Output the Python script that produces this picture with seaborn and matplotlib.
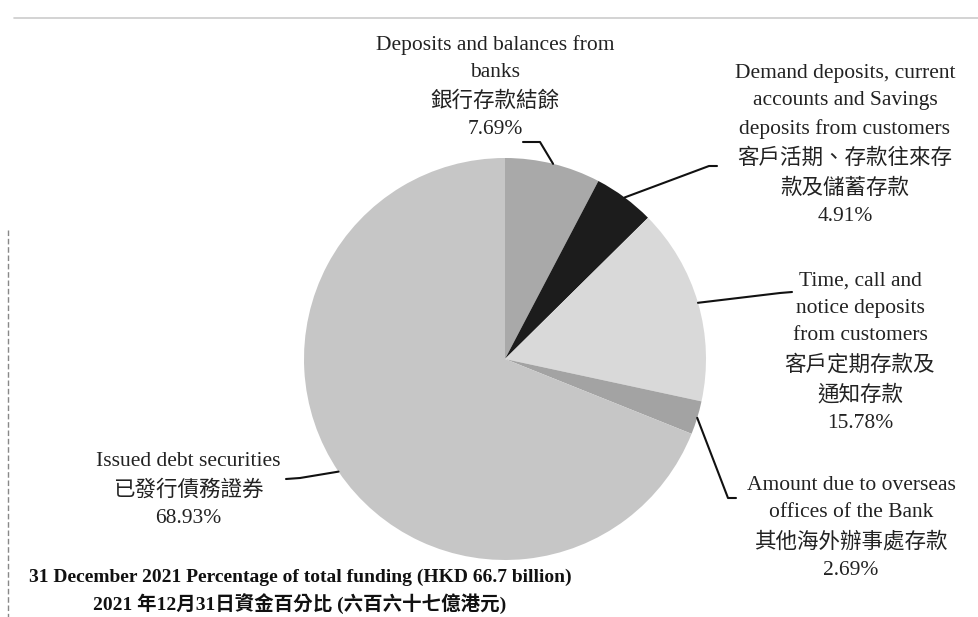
import numpy as np
import matplotlib
matplotlib.use("Agg")
import matplotlib.pyplot as plt
import seaborn as sns

# data (clockwise from 12 o'clock)
labels = [
    "Deposits and balances from\nbanks\n銀行存款結餘",
    "Demand deposits, current\naccounts and Savings\ndeposits from customers\n客戶活期、存款往來存\n款及儲蓄存款",
    "Time, call and\nnotice deposits\nfrom customers\n客戶定期存款及\n通知存款",
    "Amount due to overseas\noffices of the Bank\n其他海外辦事處存款",
    "Issued debt securities\n已發行債務證券",
]
shares = [7.69, 4.91, 15.78, 2.69, 68.93]
colors = ["#a9a9a9", "#1c1c1c", "#d9d9d9", "#a3a3a3", "#c6c6c6"]
title_en = "31 December 2021 Percentage of total funding (HKD 66.7 billion)"
title_zh = "2021 年12月31日資金百分比 (六百六十七億港元)"

sns.set_theme(style="white")
fam = ["Liberation Serif", "Noto Sans CJK TC", "DejaVu Sans"]
plt.rcParams["font.family"] = fam

W, H = 979, 617
fig = plt.figure(figsize=(W / 100, H / 100), dpi=100)
ax = fig.add_axes([0, 0, 1, 1])

cx, cy, r = 505, H - 359, 201
wedges, _ = ax.pie(
    shares,
    colors=colors,
    startangle=90,
    counterclock=False,
    center=(cx, cy),
    radius=r,
    wedgeprops=dict(linewidth=0),
)
ax.set_xlim(0, W)
ax.set_ylim(0, H)
ax.set_axis_off()

# label block centre, leader start (text side) and elbow, pixel coords from top
layout = [
    dict(xy=(495, 87), start=(523, 142), elbow=(540, 142)),
    dict(xy=(845, 145), start=(717, 166), elbow=(709, 166)),
    dict(xy=(860, 352), start=(792, 292), elbow=(780, 293)),
    dict(xy=(851, 528), start=(736, 498), elbow=(728, 498)),
    dict(xy=(188, 490), start=(286, 479), elbow=(300, 478)),
]

for w, lab, val, lo in zip(wedges, labels, shares, layout):
    mid = np.deg2rad((w.theta1 + w.theta2) / 2)
    ex, ey = cx + r * np.cos(mid), cy + r * np.sin(mid)
    ax.text(lo["xy"][0], H - lo["xy"][1], f"{lab}\n{val:.2f}%",
            ha="center", va="center", fontsize=15.5, linespacing=1.6,
            color="#222222", family=fam)
    xs = [lo["start"][0], lo["elbow"][0], ex]
    ys = [H - lo["start"][1], H - lo["elbow"][1], ey]
    ax.plot(xs, ys, color="#111111", lw=1.5)

ax.text(300, H - 592, f"{title_en}\n{title_zh}", ha="center", va="center",
        fontsize=14, fontweight="bold", linespacing=1.5, color="#111111",
        family=fam)

# scan frame remnants
ax.plot([14, W], [H - 18, H - 18], color="#cccccc", lw=1.2)
ax.plot([8, 8], [H - 230, 0], color="#888888", lw=1, ls=(0, (4, 2)))

fig.savefig("out.png", dpi=100)
